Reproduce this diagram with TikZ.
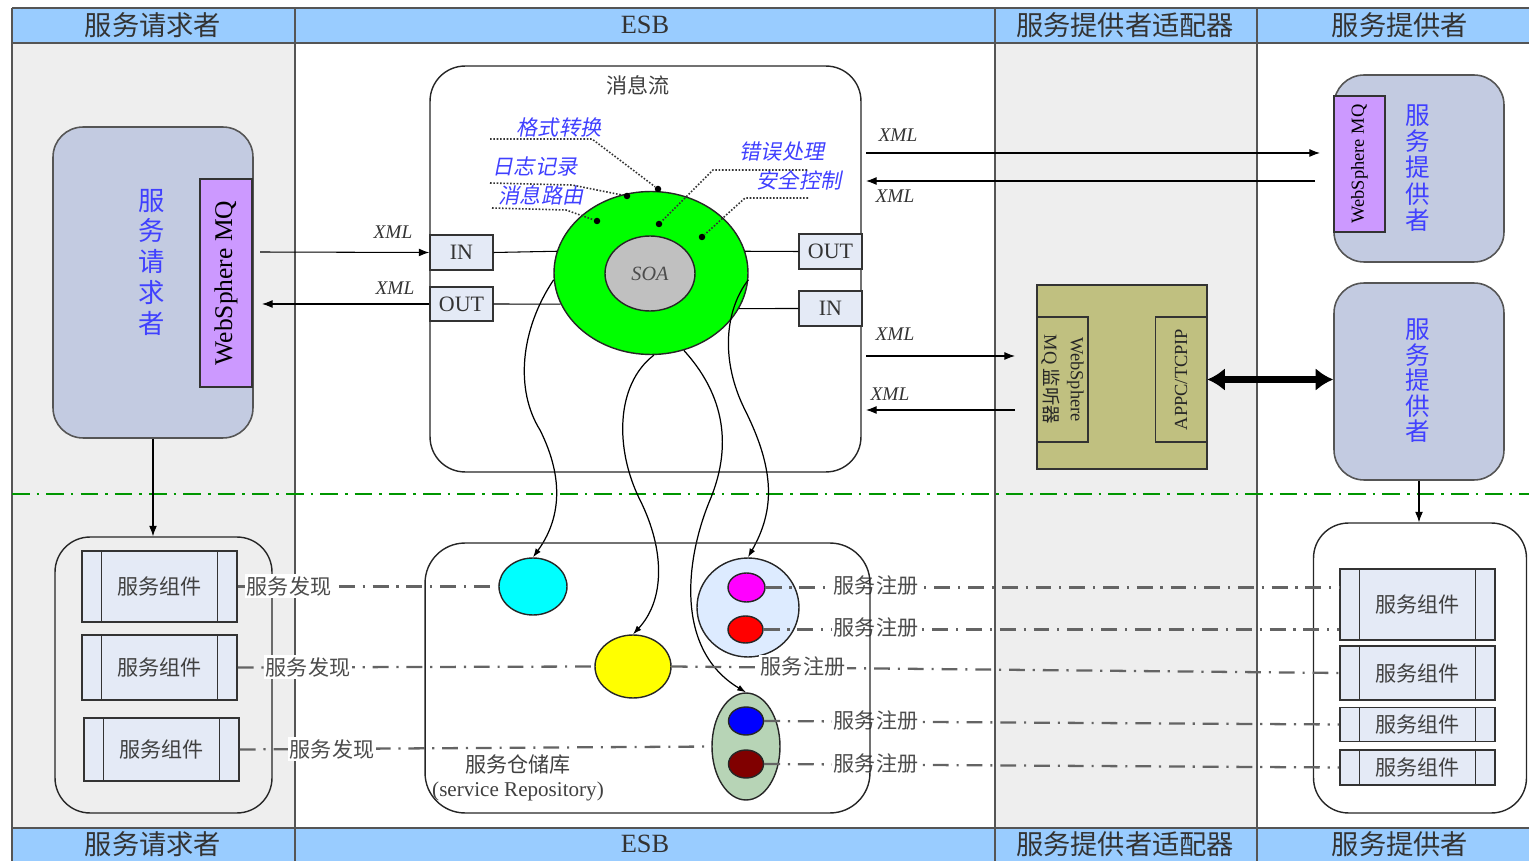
\documentclass[tikz,border=0pt]{standalone}
\usepackage{fontspec}
\setmainfont{Liberation Serif}
\newfontfamily\cjk{Noto Sans CJK SC}
\newfontfamily\cjkit[FakeSlant=0.2]{Noto Sans CJK SC}
\usetikzlibrary{positioning, arrows.meta, shapes.geometric, calc}
\definecolor{hdrBlue}{RGB}{153,204,255}
\definecolor{laneGray}{RGB}{238,238,238}
\definecolor{roleBlue}{RGB}{195,203,225}
\definecolor{mqPurple}{RGB}{204,153,255}
\definecolor{compFill}{RGB}{228,234,246}
\definecolor{adaptOlive}{RGB}{192,192,128}
\definecolor{ringGreen}{RGB}{0,255,0}
\definecolor{soaGray}{RGB}{192,192,192}
\definecolor{poolBlue}{RGB}{221,235,255}
\definecolor{poolGreen}{RGB}{183,212,182}
\definecolor{tagBlue}{RGB}{64,64,255}
\definecolor{lineGray}{RGB}{100,100,100}
\definecolor{edgeGray}{RGB}{85,85,85}
\definecolor{sepGreen}{RGB}{0,150,0}
\definecolor{svcCyan}{RGB}{0,255,255}
\definecolor{svcYellow}{RGB}{255,255,0}
\definecolor{svcMagenta}{RGB}{255,0,255}
\definecolor{svcRed}{RGB}{255,0,0}
\definecolor{svcBlue}{RGB}{0,0,255}
\definecolor{svcDark}{RGB}{128,0,0}

\begin{document}
\begin{tikzpicture}[x=0.02cm, y=-0.02cm, line width=0.6pt,
  >={Latex[length=6pt, width=4.5pt]},
  hdr/.style={font=\cjk\fontsize{15.5}{15.5}\selectfont, text=black!80},
  role/.style={draw=edgeGray, fill=roleBlue, rounded corners=0.6cm, line width=0.9pt},
  roletxt/.style={align=center, text=tagBlue, font=\cjk\fontsize{15}{17.5}\selectfont},
  mq/.style={draw=black!80, fill=mqPurple, line width=0.9pt},
  pool/.style={draw=black!85, rounded corners=0.7cm, line width=0.8pt},
  comp/.style={draw=black!80, fill=compFill, line width=0.9pt, minimum width=3.1cm,
    font=\cjk\fontsize{12}{12}\selectfont, text=black!75,
    path picture={\draw[black!80, line width=0.9pt]
      ([xshift=0.39cm]path picture bounding box.north west) -- ([xshift=0.39cm]path picture bounding box.south west)
      ([xshift=-0.39cm]path picture bounding box.north east) -- ([xshift=-0.39cm]path picture bounding box.south east);}},
  port/.style={draw=black!80, fill=compFill, line width=0.8pt, minimum width=1.26cm,
    minimum height=0.7cm, inner sep=0pt, font=\fontsize{12.5}{12.5}\selectfont, text=black!80},
  xmltag/.style={font=\itshape\fontsize{11}{11}\selectfont, text=black!80},
  fnTag/.style={font=\cjkit\fontsize{12}{12}\selectfont, text=tagBlue},
  tagdot/.style={circle, fill=black, inner sep=0pt, minimum size=0.13cm},
  leader/.style={densely dotted, line width=0.9pt, black!80},
  svc/.style={ellipse, draw=black!85, line width=0.8pt, inner sep=0pt},
  link/.style={lineGray, line width=1.3pt, dash pattern=on 9pt off 4.5pt on 1.2pt off 4.5pt},
  linktag/.style={fill=white, inner sep=1pt, font=\cjk\fontsize{12}{12}\selectfont, text=black!70},
  flowarrow/.style={-{Latex[length=5pt, width=3.5pt]}, line width=0.7pt},
]
\useasboundingbox (0,0) rectangle (1529,861);

% lanes and headers
\fill[laneGray] (12,43) rectangle (295,828);
\fill[laneGray] (995,43) rectangle (1257,828);
\fill[hdrBlue] (12,8) rectangle (1529,43);
\fill[hdrBlue] (12,828) rectangle (1529,861);
\draw[edgeGray, line width=1pt] (12,8) -- (1529,8) (12,43) -- (1529,43) (12,828) -- (1529,828);
\foreach \x in {12,295,995,1257}
  \draw[edgeGray, line width=1pt] (\x,8) -- (\x,861);
\foreach \x/\t [count=\i] in {153/服务请求者, 1125/服务提供者适配器, 1400/服务提供者} {
  \node[hdr] (hTop\i) at (\x,25) {\t};
  \node[hdr] (hBot\i) at (\x,844) {\t};
}
\node[hdr, font=\fontsize{15}{15}\selectfont] (hTopEsb) at (645,25) {ESB};
\node[hdr, font=\fontsize{15}{15}\selectfont] (hBotEsb) at (645,844) {ESB};

\draw[sepGreen, line width=1.2pt, dash pattern=on 10pt off 4pt on 1.5pt off 4pt] (12,494) -- (1529,494);

% service requester
\node[role, minimum width=4cm, minimum height=6.22cm] (req) at (153,282.5) {};
\node[mq, minimum width=1.04cm, minimum height=4.16cm] (mqL) at (226,283) {};
\node[rotate=90, font=\fontsize{14.5}{14.5}\selectfont] (mqLtxt) at (mqL) {WebSphere MQ};
\node[roletxt] (reqTxt) at (152,262) {服\\务\\请\\求\\者};
\node[pool, minimum width=4.34cm, minimum height=5.52cm] (reqPool) at (163.5,675) {};
\node[comp, minimum height=1.42cm] (c1) at (159.5,586.5) {服务组件};
\node[comp, minimum height=1.3cm] (c2) at (159.5,667.5) {服务组件};
\node[comp, minimum height=1.26cm] (c3) at (161.5,749.5) {服务组件};
\draw[->] (req.south) -- (req.south |- reqPool.north);

% message flow
\node[pool, fill=white, minimum width=8.62cm, minimum height=8.12cm] (flow) at (645.5,269) {};
\node[font=\cjk\fontsize{12}{12}\selectfont, text=black!75] (flowTitle) at (638,85) {消息流};
\node[port] (inL) at (461.5,252.5) {IN};
\node[port, minimum height=0.68cm] (outL) at (461.5,304) {OUT};
\node[port] (outR) at (830.5,251.5) {OUT};
\node[port] (inR) at (830.5,308.5) {IN};
\node[ellipse, draw=black!85, fill=ringGreen, line width=0.8pt, minimum width=3.88cm, minimum height=3.26cm] (ring) at (651,273) {};
\node[ellipse, draw=black!85, fill=soaGray, line width=0.8pt, minimum width=1.8cm, minimum height=1.5cm,
  font=\itshape\fontsize{11.5}{11.5}\selectfont, text=black!70] (soa) at (650,273.5) {SOA};
\draw (inL.east) -- (ring.167);
\draw (outL.east) -- (ring.199);
\draw (outR.west) -- (ring.13);
\draw (inR.west) -- (ring.-22);

% functions on the bus
\node[fnTag] (fmt) at (559,127) {格式转换};
\node[fnTag] (log) at (535,167) {日志记录};
\node[fnTag] (rte) at (541,195) {消息路由};
\node[fnTag] (err) at (782,152) {错误处理};
\node[fnTag] (sec) at (799,180) {安全控制};
\node[tagdot] (dFmt) at (658,189) {};
\node[tagdot] (dLog) at (627,196) {};
\node[tagdot] (dRte) at (597,221) {};
\node[tagdot] (dErr) at (659,224) {};
\node[tagdot] (dSec) at (702,237) {};
\draw[leader] (490,139) -- (592,139) -- (dFmt);
\draw[leader] (490,183) -- (572,185) -- (dLog);
\draw[leader] (492,208) -- (566,210) -- (dRte);
\draw[leader] (807,170) -- (713,170) -- (dErr);
\draw[leader] (808,198) -- (745,198) -- (dSec);

% XML traffic
\coordinate (reqIn) at (260,252);
\coordinate (reqOut) at (262,304);
\draw[->] (reqIn) -- (inL.west);
\draw[->] (outL.west) -- (reqOut);
\node[xmltag] (x1) at (393,232) {XML};
\node[xmltag] (x2) at (395,288) {XML};

% service providers
\node[role, minimum width=3.4cm, minimum height=3.74cm] (provA) at (1419,168.5) {};
\node[mq, minimum width=1.02cm, minimum height=2.72cm] (mqR) at (1359.5,164) {};
\node[rotate=90, font=\fontsize{10.5}{10.5}\selectfont] (mqRtxt) at (mqR) {WebSphere MQ};
\node[roletxt, font=\cjk\fontsize{14}{15}\selectfont] (provAtxt) at (1418,168) {服\\务\\提\\供\\者};
\node[role, minimum width=3.4cm, minimum height=3.94cm] (provB) at (1419,381.5) {};
\node[roletxt, font=\cjk\fontsize{14}{14.5}\selectfont] (provBtxt) at (1418,381) {服\\务\\提\\供\\者};

% adapter
\node[draw=black!80, fill=adaptOlive, line width=0.9pt, minimum width=3.4cm, minimum height=3.68cm] (adapt) at (1122,377) {};
\node[draw=black!80, line width=0.9pt, minimum width=1.02cm, minimum height=2.5cm] (lsn) at (1062.5,379.5) {};
\node[draw=black!80, line width=0.9pt, minimum width=1.02cm, minimum height=2.5cm] (appc) at (1181,379.5) {};
\node[rotate=-90, align=center, font=\fontsize{10.5}{15}\selectfont, text=black!85] (lsnTxt) at (lsn) {WebSphere\\MQ {\cjk 监听器}};
\node[rotate=90, font=\fontsize{10.5}{10.5}\selectfont, text=black!85] (appcTxt) at (appc) {APPC/TCPIP};
\draw[{Latex[length=10pt, width=13pt]}-{Latex[length=10pt, width=13pt]}, line width=4.5pt] (appc.east) -- (provB.west |- appc.east);

\coordinate (busA) at (866,153);
\coordinate (provIn) at (1320,153);
\coordinate (provOut) at (1315,181);
\coordinate (busB) at (866,181);
\coordinate (busC) at (866,356);
\coordinate (lsnIn) at (1015,356);
\coordinate (lsnOut) at (1015,410);
\coordinate (busD) at (866,410);
\draw[->] (busA) -- (provIn);
\draw[->] (provOut) -- (busB);
\draw[->] (busC) -- (lsnIn);
\draw[->] (lsnOut) -- (busD);
\node[xmltag] (x3) at (898,135) {XML};
\node[xmltag] (x4) at (895,196) {XML};
\node[xmltag] (x5) at (895,334) {XML};
\node[xmltag] (x6) at (890,394) {XML};

\node[pool, minimum width=4.26cm, minimum height=5.8cm] (provPool) at (1420,668) {};
\node[comp, minimum height=1.42cm] (rc1) at (1417.5,604.5) {服务组件};
\node[comp, minimum height=1.08cm] (rc2) at (1417.5,673) {服务组件};
\node[comp, minimum height=0.68cm] (rc3) at (1417.5,724.5) {服务组件};
\node[comp, minimum height=0.7cm] (rc4) at (1417.5,767.5) {服务组件};
\draw[->] (provB.south) -- (provB.south |- provPool.north);

% repository
\node[svc, fill=svcCyan, minimum width=1.36cm, minimum height=1.14cm] (cyanSvc) at (533,586.5) {};
\node[svc, fill=svcYellow, minimum width=1.52cm, minimum height=1.26cm] (yellowSvc) at (633,666.5) {};
\node[svc, fill=poolBlue, minimum width=2.04cm, minimum height=1.98cm] (poolA) at (748,607.5) {};
\node[svc, fill=svcMagenta, minimum width=0.74cm, minimum height=0.58cm] (magSvc) at (746.5,587.5) {};
\node[svc, fill=svcRed, minimum width=0.7cm, minimum height=0.54cm] (redSvc) at (745.5,629.5) {};
\node[svc, fill=poolGreen, minimum width=1.36cm, minimum height=2.14cm] (poolB) at (746,746.5) {};
\node[svc, fill=svcBlue, minimum width=0.7cm, minimum height=0.56cm] (blueSvc) at (746,721) {};
\node[svc, fill=svcDark, minimum width=0.7cm, minimum height=0.56cm] (darkSvc) at (746,764) {};
\node[align=center, font=\fontsize{12}{13.6}\selectfont, text=black!75] (repoTxt) at (518,778) {{\cjk 服务仓储库}\\(service Repository)};

\draw[flowarrow] (ring.184) .. controls (520,330) and (515,390) .. (540,430) .. controls (565,480) and (560,520) .. (cyanSvc.north);
\draw[flowarrow] (ring.272) .. controls (615,385) and (615,450) .. (640,500) .. controls (665,550) and (665,600) .. (yellowSvc.north);
\draw[flowarrow] (ring.293) .. controls (720,390) and (735,440) .. (710,500) .. controls (685,560) and (675,650) .. (poolB.north);
\draw[flowarrow] (ring.-4) .. controls (725,310) and (720,360) .. (745,410) .. controls (775,470) and (775,510) .. (poolA.north);

% discovery and registration
\draw[link] (c1.east) -- (cyanSvc.west);
\draw[link] (c2.east) -- (yellowSvc.west);
\draw[link] (c3.east) -- (poolB.west);
\draw[link] (magSvc.east) -- (rc1.west |- magSvc.east);
\draw[link] (redSvc.east) -- (rc1.west |- redSvc.east);
\draw[link] (yellowSvc.east) -- (rc2.west);
\draw[link] (blueSvc.east) -- (rc3.west);
\draw[link] (darkSvc.east) -- (rc4.west);
\node[linktag] (f1) at (289,586) {服务发现};
\node[linktag] (f2) at (308,667) {服务发现};
\node[linktag] (f3) at (332,749) {服务发现};
\node[linktag] (g1) at (876,586) {服务注册};
\node[linktag] (g2) at (876,628) {服务注册};
\node[linktag] (g3) at (803,667) {服务注册};
\node[linktag] (g4) at (876,721) {服务注册};
\node[linktag] (g5) at (876,764) {服务注册};
\node[pool, rounded corners=0.8cm, minimum width=8.9cm, minimum height=5.4cm] (repo) at (647.5,678) {};
\end{tikzpicture}
\end{document}
